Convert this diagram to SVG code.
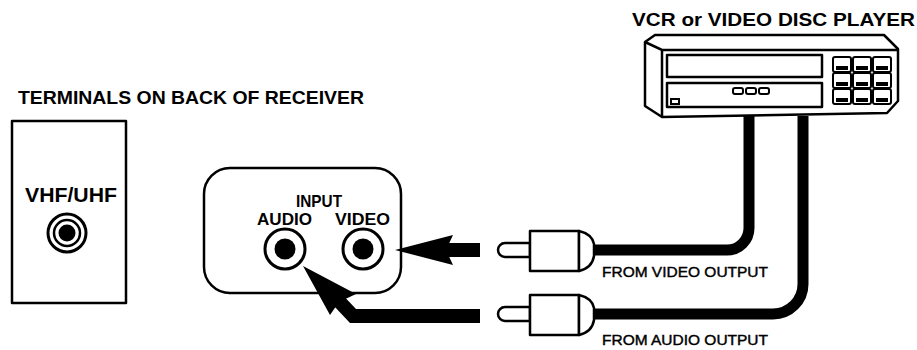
<svg xmlns="http://www.w3.org/2000/svg" width="917" height="350" viewBox="0 0 917 350">
<style>
.ln{fill:#fff;stroke:#000;stroke-width:2.5;stroke-linejoin:round}
.lo{fill:none;stroke:#000;stroke-width:2.5}
.blk{fill:#000}
.cable{fill:none;stroke:#000;stroke-width:11;stroke-linejoin:round}
.t{font-family:"Liberation Sans",Arial,sans-serif;font-weight:bold;fill:#000}
.s{font-family:"Liberation Sans",Arial,sans-serif;font-weight:normal;fill:#000;stroke:#000;stroke-width:0.4;font-size:14px}
.key{fill:#fff;stroke:#000;stroke-width:2}
</style>
<defs>
<g id="plug">
<path class="ln" d="M530,-7 H505 A7,7 0 0 0 505,7 H530 Z"/>
<rect class="ln" x="530" y="-19" width="49" height="40"/>
<path class="ln" d="M579,-19 Q592,-16 594,-6 V6 Q592,18 579,21 Z"/>
</g>
</defs>
<rect width="917" height="350" fill="#fff"/>

<g id="title-receiver">
<text class="t" x="18" y="104" font-size="19" textLength="346" lengthAdjust="spacingAndGlyphs">TERMINALS ON BACK OF RECEIVER</text>
</g>

<g id="vhf-panel">
<rect class="ln" x="12" y="121" width="114" height="182" stroke-width="3"/>
<text class="t" x="25" y="202" font-size="20" textLength="92" lengthAdjust="spacingAndGlyphs">VHF/UHF</text>
<circle cx="67" cy="233" r="19" fill="none" stroke="#000" stroke-width="3"/>
<circle cx="67" cy="233" r="13" fill="none" stroke="#000" stroke-width="2.5"/>
<circle class="blk" cx="67" cy="233" r="8.5"/>
</g>

<g id="input-panel">
<rect class="ln" x="204" y="168" width="197" height="125" rx="26" ry="26"/>
<text class="t" x="296" y="207" font-size="17" textLength="46" lengthAdjust="spacingAndGlyphs">INPUT</text>
<text class="t" x="257" y="225" font-size="17" textLength="55" lengthAdjust="spacingAndGlyphs">AUDIO</text>
<text class="t" x="335" y="225" font-size="17" textLength="55" lengthAdjust="spacingAndGlyphs">VIDEO</text>
<circle cx="285" cy="249" r="20" fill="#fff" stroke="#000" stroke-width="3"/>
<circle class="blk" cx="285" cy="249" r="10.5"/>
<circle cx="363" cy="249" r="20" fill="#fff" stroke="#000" stroke-width="3"/>
<circle class="blk" cx="363" cy="249" r="10.5"/>
</g>

<g id="vcr">
<text class="t" x="632" y="26" font-size="19" textLength="283" lengthAdjust="spacingAndGlyphs">VCR or VIDEO DISC PLAYER</text>
<path class="ln" d="M645,42 L655,35 L884,35 L898,49 L898,101 L887,113 L662,117 L645,106 Z"/>
<path class="lo" d="M645,42 L662,50 H898 M662,50 V117"/>
<rect class="ln" x="667" y="55" width="155" height="22"/>
<rect class="ln" x="667" y="83" width="155" height="24"/>
<rect class="key" x="733" y="88" width="10" height="6" rx="2"/>
<rect class="key" x="746" y="88" width="10" height="6" rx="2"/>
<rect class="key" x="759" y="88" width="10" height="6" rx="2"/>
<rect class="key" x="671" y="99" width="8" height="5"/>
<g id="keypad">
<rect class="key" x="833" y="57" width="18" height="15" rx="2"/><rect class="blk" x="836" y="66" width="12" height="4"/>
<rect class="key" x="853" y="57" width="18" height="15" rx="2"/><rect class="blk" x="856" y="66" width="12" height="4"/>
<rect class="key" x="873" y="57" width="18" height="15" rx="2"/><rect class="blk" x="876" y="66" width="12" height="4"/>
<rect class="key" x="833" y="73" width="18" height="15" rx="2"/><rect class="blk" x="836" y="82" width="12" height="4"/>
<rect class="key" x="853" y="73" width="18" height="15" rx="2"/><rect class="blk" x="856" y="82" width="12" height="4"/>
<rect class="key" x="873" y="73" width="18" height="15" rx="2"/><rect class="blk" x="876" y="82" width="12" height="4"/>
<rect class="key" x="833" y="89" width="18" height="15" rx="2"/><rect class="blk" x="836" y="98" width="12" height="4"/>
<rect class="key" x="853" y="89" width="18" height="15" rx="2"/><rect class="blk" x="856" y="98" width="12" height="4"/>
<rect class="key" x="873" y="89" width="18" height="15" rx="2"/><rect class="blk" x="876" y="98" width="12" height="4"/>
</g>
</g>

<g id="connectors">
<path class="cable" d="M592,250 H727 A22,22 0 0 0 749,228 V116"/>
<path class="cable" d="M592,314 H773 A30,30 0 0 0 803,284 V116"/>
<polygon class="blk" points="395,250 453,235 446,250 453,265"/>
<rect class="blk" x="445" y="243" width="35" height="14"/>
<polygon class="blk" points="303,266 356,294 339,302 330,315"/>
<polyline fill="none" stroke="#000" stroke-width="14" stroke-linejoin="miter" points="336,298 353,316 480,316"/>
</g>

<g id="video-plug">
<use href="#plug" x="0" y="250"/>
<text class="s" x="602" y="277" textLength="166" lengthAdjust="spacingAndGlyphs">FROM VIDEO OUTPUT</text>
</g>

<g id="audio-plug">
<use href="#plug" x="0" y="314"/>
<text class="s" x="602" y="345" textLength="166" lengthAdjust="spacingAndGlyphs">FROM AUDIO OUTPUT</text>
</g>
</svg>
